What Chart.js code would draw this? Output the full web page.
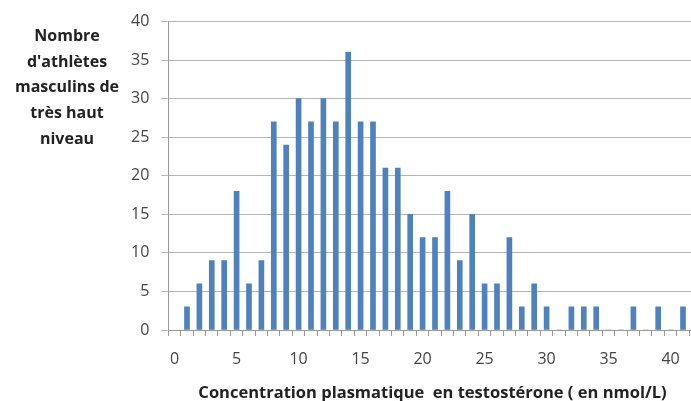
<!DOCTYPE html>
<html lang="fr">
<head>
    <meta charset="UTF-8">
    <title>Testostérone</title>
    <script src="https://cdn.jsdelivr.net/npm/chart.js"></script>
</head>
<body>
    <style>
        body {
            margin: 0;
            padding: 0;
            background: white;
        }

        #wrap {
            position: relative;
            width: 691px;
            height: 401px;
            overflow: hidden;
        }

        #ytitle {
            position: absolute;
            left: 2px;
            top: 23px;
            width: 130px;
            text-align: center;
            font: bold 16px "Open Sans", sans-serif;
            line-height: 25.7px;
            color: #222;
        }
    </style>
    <div id="wrap">
        <canvas id="chart" width="697" height="403"></canvas>
        <div id="ytitle">Nombre<br>d'athlètes<br>masculins de<br>très haut<br>niveau</div>
    </div>

    <script>
        // concentration (nmol/L) et nombre d'athlètes
        const concentrations = [1, 2, 3, 4, 5, 6, 7, 8, 9, 10, 11, 12, 13, 14, 15, 16, 17, 18, 19, 20,
            21, 22, 23, 24, 25, 26, 27, 28, 29, 30, 31, 32, 33, 34, 35, 36, 37, 38, 39, 40, 41];
        const athletes = [3, 6, 9, 9, 18, 6, 9, 27, 24, 30, 27, 30, 27, 36, 27, 27, 21, 21, 15, 12,
            12, 18, 9, 15, 6, 6, 12, 3, 6, 3, 0, 3, 3, 3, 0, 0, 3, 0, 3, 0, 3];
        const yTicks = [0, 5, 10, 15, 20, 25, 30, 35, 40];

        const points = concentrations.map((c, i) => ({ x: c, y: athletes[i] }));

        const ctx = document.getElementById('chart').getContext('2d');
        new Chart(ctx, {
            type: 'bar',
            data: {
                datasets: [{
                    data: points,
                    backgroundColor: '#4f81bd',
                    barThickness: 5
                }]
            },
            options: {
                responsive: false,
                animation: false,
                layout: {
                    padding: { left: 119, top: 7, right: 0, bottom: 0 }
                },
                plugins: {
                    legend: { display: false },
                    tooltip: { enabled: false }
                },
                scales: {
                    x: {
                        type: 'linear',
                        min: 0,
                        max: 41.6,
                        afterBuildTicks: (scale) => {
                            scale.ticks = [];
                            for (let v = 0; v <= 41; v++) scale.ticks.push({ value: v });
                        },
                        ticks: {
                            autoSkip: false,
                            maxRotation: 0,
                            callback: (v) => (v % 5 === 0 ? v : ''),
                            color: '#444',
                            font: { family: 'Open Sans', size: 16 },
                            padding: 14
                        },
                        grid: {
                            drawOnChartArea: false,
                            tickLength: 6,
                            color: '#999'
                        },
                        border: { color: '#999' },
                        title: {
                            display: true,
                            text: 'Concentration plasmatique  en testostérone ( en nmol/L)',
                            color: '#222',
                            font: { family: 'Open Sans', size: 16.5, weight: 'bold' },
                            padding: { top: 0, bottom: 0 }
                        }
                    },
                    y: {
                        min: 0,
                        max: 40,
                        afterBuildTicks: (scale) => {
                            scale.ticks = yTicks.map(v => ({ value: v }));
                        },
                        ticks: {
                            color: '#444',
                            font: { family: 'Open Sans', size: 16 },
                            padding: 12
                        },
                        grid: {
                            color: '#b5b5b5',
                            tickLength: 7
                        },
                        border: { color: '#999' }
                    }
                }
            }
        });
    </script>
</body>
</html>
